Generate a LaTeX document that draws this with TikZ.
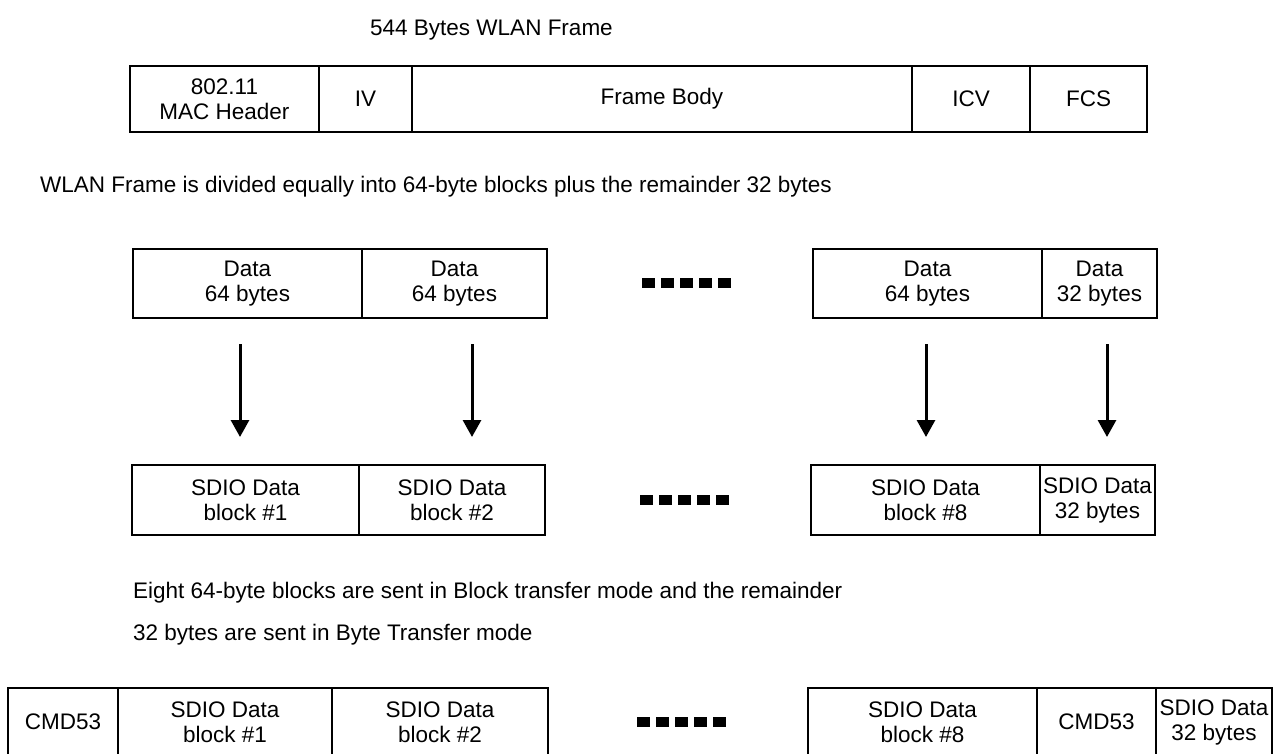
\documentclass[tikz,border=0pt]{standalone}
\usepackage{fontspec}
\setmainfont{Liberation Sans}
\usetikzlibrary{arrows.meta}
\newcommand\mycell[6]{%
  \node[cellbox, minimum width={(#3)-(#2)}, minimum height={(#5)-(#4)}] (#1)
    at ({((#2)+(#3))/2},{((#4)+(#5))/2}) {#6};}
\newcommand\mydots[3]{% name, x start, y center
  \foreach \k in {0,...,4}{
    \fill ({#2+\k*19},{#3-5}) rectangle ({#2+\k*19+13},{#3+5});}
  \coordinate (#1) at ({#2+45},#3);}
\begin{document}
\begin{tikzpicture}[x=1pt,y=-1pt,
  every node/.style={font=\fontsize{22.5}{25}\selectfont},
  cellbox/.style={draw, line width=2.5pt, inner sep=0pt, align=center},
  txt/.style={inner sep=0pt, anchor=base west},
  arr/.style={line width=3pt, -{Triangle[width=18pt,length=17pt]}}]
\clip (0,0) rectangle (1275,754);
\fill[white] (0,0) rectangle (1275,754);

% title
\node[txt] (title) at (370,36) {544 Bytes WLAN Frame};

% WLAN frame
\mycell{mac}{130}{319}{66}{132}{802.11\\MAC Header}
\mycell{iv}{319}{412}{66}{132}{IV}
\mycell{body}{412}{912}{66}{132}{Frame Body}
\mycell{icv}{912}{1030}{66}{132}{ICV}
\mycell{fcs}{1030}{1147}{66}{132}{FCS}

\node[txt] (div) at (40,193) {WLAN Frame is divided equally into 64-byte blocks plus the remainder 32 bytes};

% data blocks
\mycell{d1}{133}{362}{249}{318}{Data\\64 bytes}
\mycell{d2}{362}{547}{249}{318}{Data\\64 bytes}
\mycell{d8}{813}{1042}{249}{318}{Data\\64 bytes}
\mycell{d9}{1042}{1157}{249}{318}{Data\\32 bytes}
\mydots{dotsA}{642}{283}

% sdio blocks
\mycell{s1}{132}{359}{465}{535}{SDIO Data\\block \#1}
\mycell{s2}{359}{545}{465}{535}{SDIO Data\\block \#2}
\mycell{s8}{811}{1040}{465}{535}{SDIO Data\\block \#8}
\mycell{s9}{1040}{1155}{465}{535}{SDIO Data\\32 bytes}
\mydots{dotsB}{640}{500}

% arrows
\coordinate (a1s) at (240,344); \coordinate (a1e) at (240,437);
\coordinate (a2s) at (472,344); \coordinate (a2e) at (472,437);
\coordinate (a8s) at (926,344); \coordinate (a8e) at (926,437);
\coordinate (a9s) at (1107,344); \coordinate (a9e) at (1107,437);
\draw[arr] (a1s) -- (a1e);
\draw[arr] (a2s) -- (a2e);
\draw[arr] (a8s) -- (a8e);
\draw[arr] (a9s) -- (a9e);

\node[txt] (eight) at (133,598) {Eight 64-byte blocks are sent in Block transfer mode and the remainder};
\node[txt] (rem) at (133,640) {32 bytes are sent in Byte Transfer mode};

% bottom row
\mycell{c1}{8}{118}{688}{756}{CMD53}
\mycell{b1}{118}{332}{688}{756}{SDIO Data\\block \#1}
\mycell{b2}{332}{548}{688}{756}{SDIO Data\\block \#2}
\mycell{b8}{808}{1037}{688}{756}{SDIO Data\\block \#8}
\mycell{c2}{1037}{1156}{688}{756}{CMD53}
\mycell{b9}{1156}{1272}{688}{756}{SDIO Data\\32 bytes}
\mydots{dotsC}{637}{722}
\end{tikzpicture}
\end{document}
